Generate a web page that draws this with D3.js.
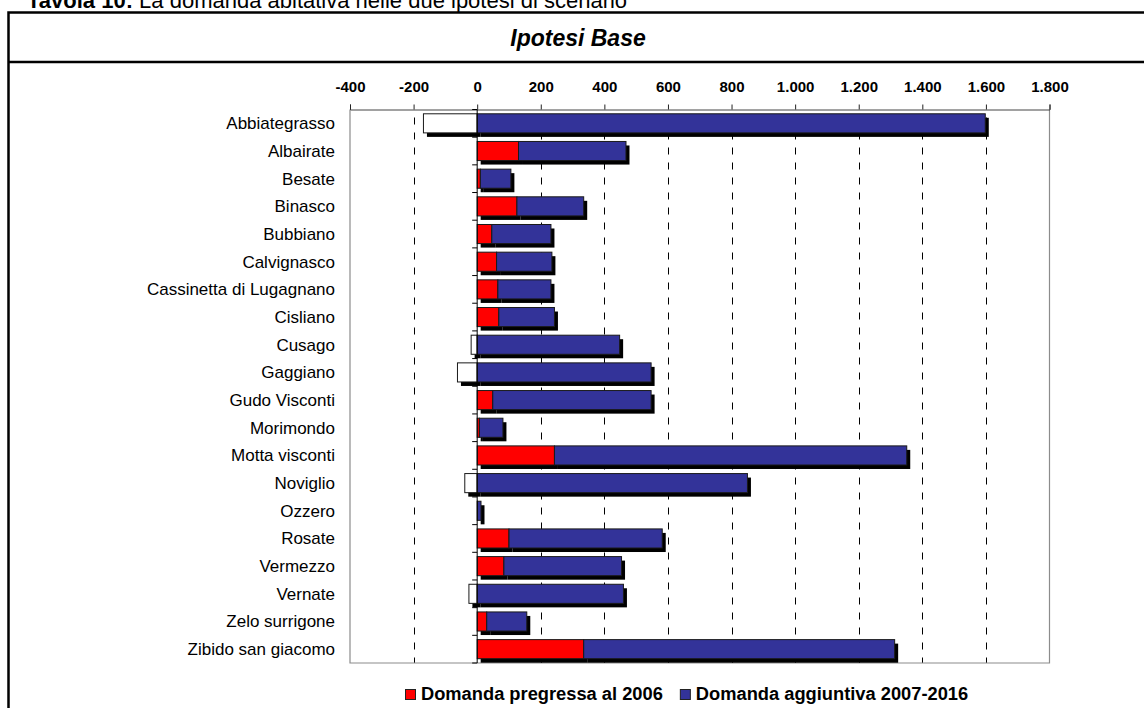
<!DOCTYPE html>
<html>
<head>
<meta charset="utf-8">
<script src="https://cdn.jsdelivr.net/npm/d3@7"></script>
<style>
  body { margin: 0; background: #fff; }
  svg { display: block; font-family: Arial, "Liberation Sans", sans-serif; }
</style>
</head>
<body>
<div id="main-content"></div>
<script>
'use strict'

// comuni, dall'alto verso il basso
const comuni = [
  'Abbiategrasso', 'Albairate', 'Besate', 'Binasco', 'Bubbiano', 'Calvignasco',
  'Cassinetta di Lugagnano', 'Cisliano', 'Cusago', 'Gaggiano', 'Gudo Visconti',
  'Morimondo', 'Motta visconti', 'Noviglio', 'Ozzero', 'Rosate', 'Vermezzo',
  'Vernate', 'Zelo surrigone', 'Zibido san giacomo'
]

const pregressa = [-169, 130, 10, 125, 46, 61, 65, 68, -19, -62, 49, 7, 243, -39, 1, 100, 84, -26, 30, 335]
const aggiuntiva = [1598, 338, 96, 210, 186, 174, 167, 175, 448, 547, 498, 74, 1108, 850, 11, 482, 370, 460, 126, 978]

const seriesNames = ['Domanda pregressa al 2006', 'Domanda aggiuntiva 2007-2016']
const xTicks = [-400, -200, 0, 200, 400, 600, 800, 1000, 1200, 1400, 1600, 1800]

const width = 1144,
    height = 708

const plot = { left: 350, right: 1049.5, top: 109.5, bottom: 663 }

const svg = d3.select('#main-content').append('svg')
  .attr('width', width)
  .attr('height', height)

const x = d3.scaleLinear().domain([-400, 1800]).range([plot.left, plot.right])
const y = d3.scaleBand().domain(comuni).range([plot.top, plot.bottom])
  .paddingInner(0.31).paddingOuter(0.155)

const it = d3.formatLocale({ decimal: ',', thousands: '.', grouping: [3], currency: ['', ' €'], minus: '-' })
const fmt = it.format(',')

// titolo della tavola (tagliato in alto)
const head = svg.append('text')
  .attr('x', 27)
  .attr('y', 8)
  .style('font-size', '22px')
head.append('tspan').style('font-weight', 'bold').text('Tavola 10:')
head.append('tspan').text(' La domanda abitativa nelle due ipotesi di scenario')

// cornice
svg.append('rect')
  .attr('x', 8.5)
  .attr('y', 12.5)
  .attr('width', 1200)
  .attr('height', 800)
  .attr('fill', 'none')
  .attr('stroke', '#000')
  .attr('stroke-width', 2.5)

svg.append('line')
  .attr('x1', 8).attr('x2', width)
  .attr('y1', 62).attr('y2', 62)
  .attr('stroke', '#000')
  .attr('stroke-width', 2.5)

svg.append('text')
  .attr('x', 578)
  .attr('y', 46)
  .attr('text-anchor', 'middle')
  .style('font-size', '23px')
  .style('font-weight', 'bold')
  .style('font-style', 'italic')
  .text('Ipotesi Base')

// griglia tratteggiata
svg.append('g')
  .selectAll('line')
  .data(xTicks.filter((d) => d !== 0 && d !== -400 && d !== 1800))
  .enter().append('line')
    .attr('x1', (d) => Math.round(x(d)) + 0.5)
    .attr('x2', (d) => Math.round(x(d)) + 0.5)
    .attr('y1', plot.top)
    .attr('y2', plot.bottom)
    .attr('stroke', '#000')
    .attr('stroke-dasharray', '7,8')
    .attr('stroke-dashoffset', -8)

// bordo area del grafico
svg.append('path')
  .attr('d', `M${plot.left},${plot.top}V${plot.bottom}H${plot.right}V${plot.top}`)
  .attr('fill', 'none')
  .attr('stroke', '#8c8c8c')
  .attr('stroke-width', 1.2)

// asse in alto
const xAxis = svg.append('g')
  .attr('transform', `translate(0,${plot.top})`)
  .call(d3.axisTop(x).tickValues(xTicks).tickFormat(fmt).tickSizeOuter(0).tickSize(5).tickPadding(13))
xAxis.select('.domain').attr('stroke', '#444')
xAxis.selectAll('.tick line').attr('stroke', '#222')
xAxis.selectAll('text')
  .attr('fill', '#000')
  .style('font-family', 'Arial, "Liberation Sans", sans-serif')
  .style('font-size', '15px')
  .style('font-weight', 'bold')

// barre impilate
const table = comuni.map((c, i) => ({ comune: c, pregressa: pregressa[i], aggiuntiva: aggiuntiva[i] }))
const stacked = d3.stack()
  .keys(['pregressa', 'aggiuntiva'])
  .offset(d3.stackOffsetDiverging)(table)

const segs = []
stacked.forEach((s) => {
  s.forEach((d) => {
    segs.push({ key: s.key, comune: d.data.comune, value: d.data[s.key], x0: d[0], x1: d[1] })
  })
})

const fillOf = (d) => {
  if (d.key === 'aggiuntiva') return '#333399'
  return d.value < 0 ? '#ffffff' : '#ff0000'
}

// ombre
svg.append('g')
  .selectAll('rect')
  .data(segs.filter((d) => d.x1 !== d.x0))
  .enter().append('rect')
    .attr('x', (d) => x(d.x0) + 3.5)
    .attr('y', (d) => y(d.comune) + 4)
    .attr('width', (d) => x(d.x1) - x(d.x0))
    .attr('height', y.bandwidth())
    .attr('fill', '#000')

svg.append('g')
  .selectAll('rect')
  .data(segs.filter((d) => d.x1 !== d.x0))
  .enter().append('rect')
    .attr('x', (d) => x(d.x0))
    .attr('y', (d) => y(d.comune))
    .attr('width', (d) => x(d.x1) - x(d.x0))
    .attr('height', y.bandwidth())
    .attr('fill', fillOf)
    .attr('stroke', '#1a1a1a')
    .attr('stroke-width', 1)

// asse delle categorie sullo zero
const step = y.step()
svg.append('line')
  .attr('x1', x(0)).attr('x2', x(0))
  .attr('y1', plot.top).attr('y2', plot.bottom)
  .attr('stroke', '#000')
svg.append('g')
  .selectAll('line')
  .data(d3.range(comuni.length + 1))
  .enter().append('line')
    .attr('x1', x(0) - 5).attr('x2', x(0))
    .attr('y1', (i) => plot.top + i * step)
    .attr('y2', (i) => plot.top + i * step)
    .attr('stroke', '#000')

svg.append('g')
  .selectAll('text')
  .data(comuni)
  .enter().append('text')
    .attr('x', 335)
    .attr('y', (d) => y(d) + y.bandwidth() / 2)
    .attr('dy', '.35em')
    .attr('text-anchor', 'end')
    .style('font-size', '17px')
    .text((d) => d)

// legenda
const legend = svg.append('g')
const legendColors = ['#ff0000', '#333399']
let lx = 405
seriesNames.forEach((name, i) => {
  legend.append('rect')
    .attr('x', lx + 0.5).attr('y', 689.5)
    .attr('width', 10).attr('height', 10)
    .attr('fill', legendColors[i])
    .attr('stroke', '#222')
  const t = legend.append('text')
    .attr('x', lx + 16)
    .attr('y', 700)
    .style('font-size', '18.3px')
    .style('font-weight', 'bold')
    .text(name)
  lx += 16 + t.node().getComputedTextLength() + 17
})
</script>
</body>
</html>
